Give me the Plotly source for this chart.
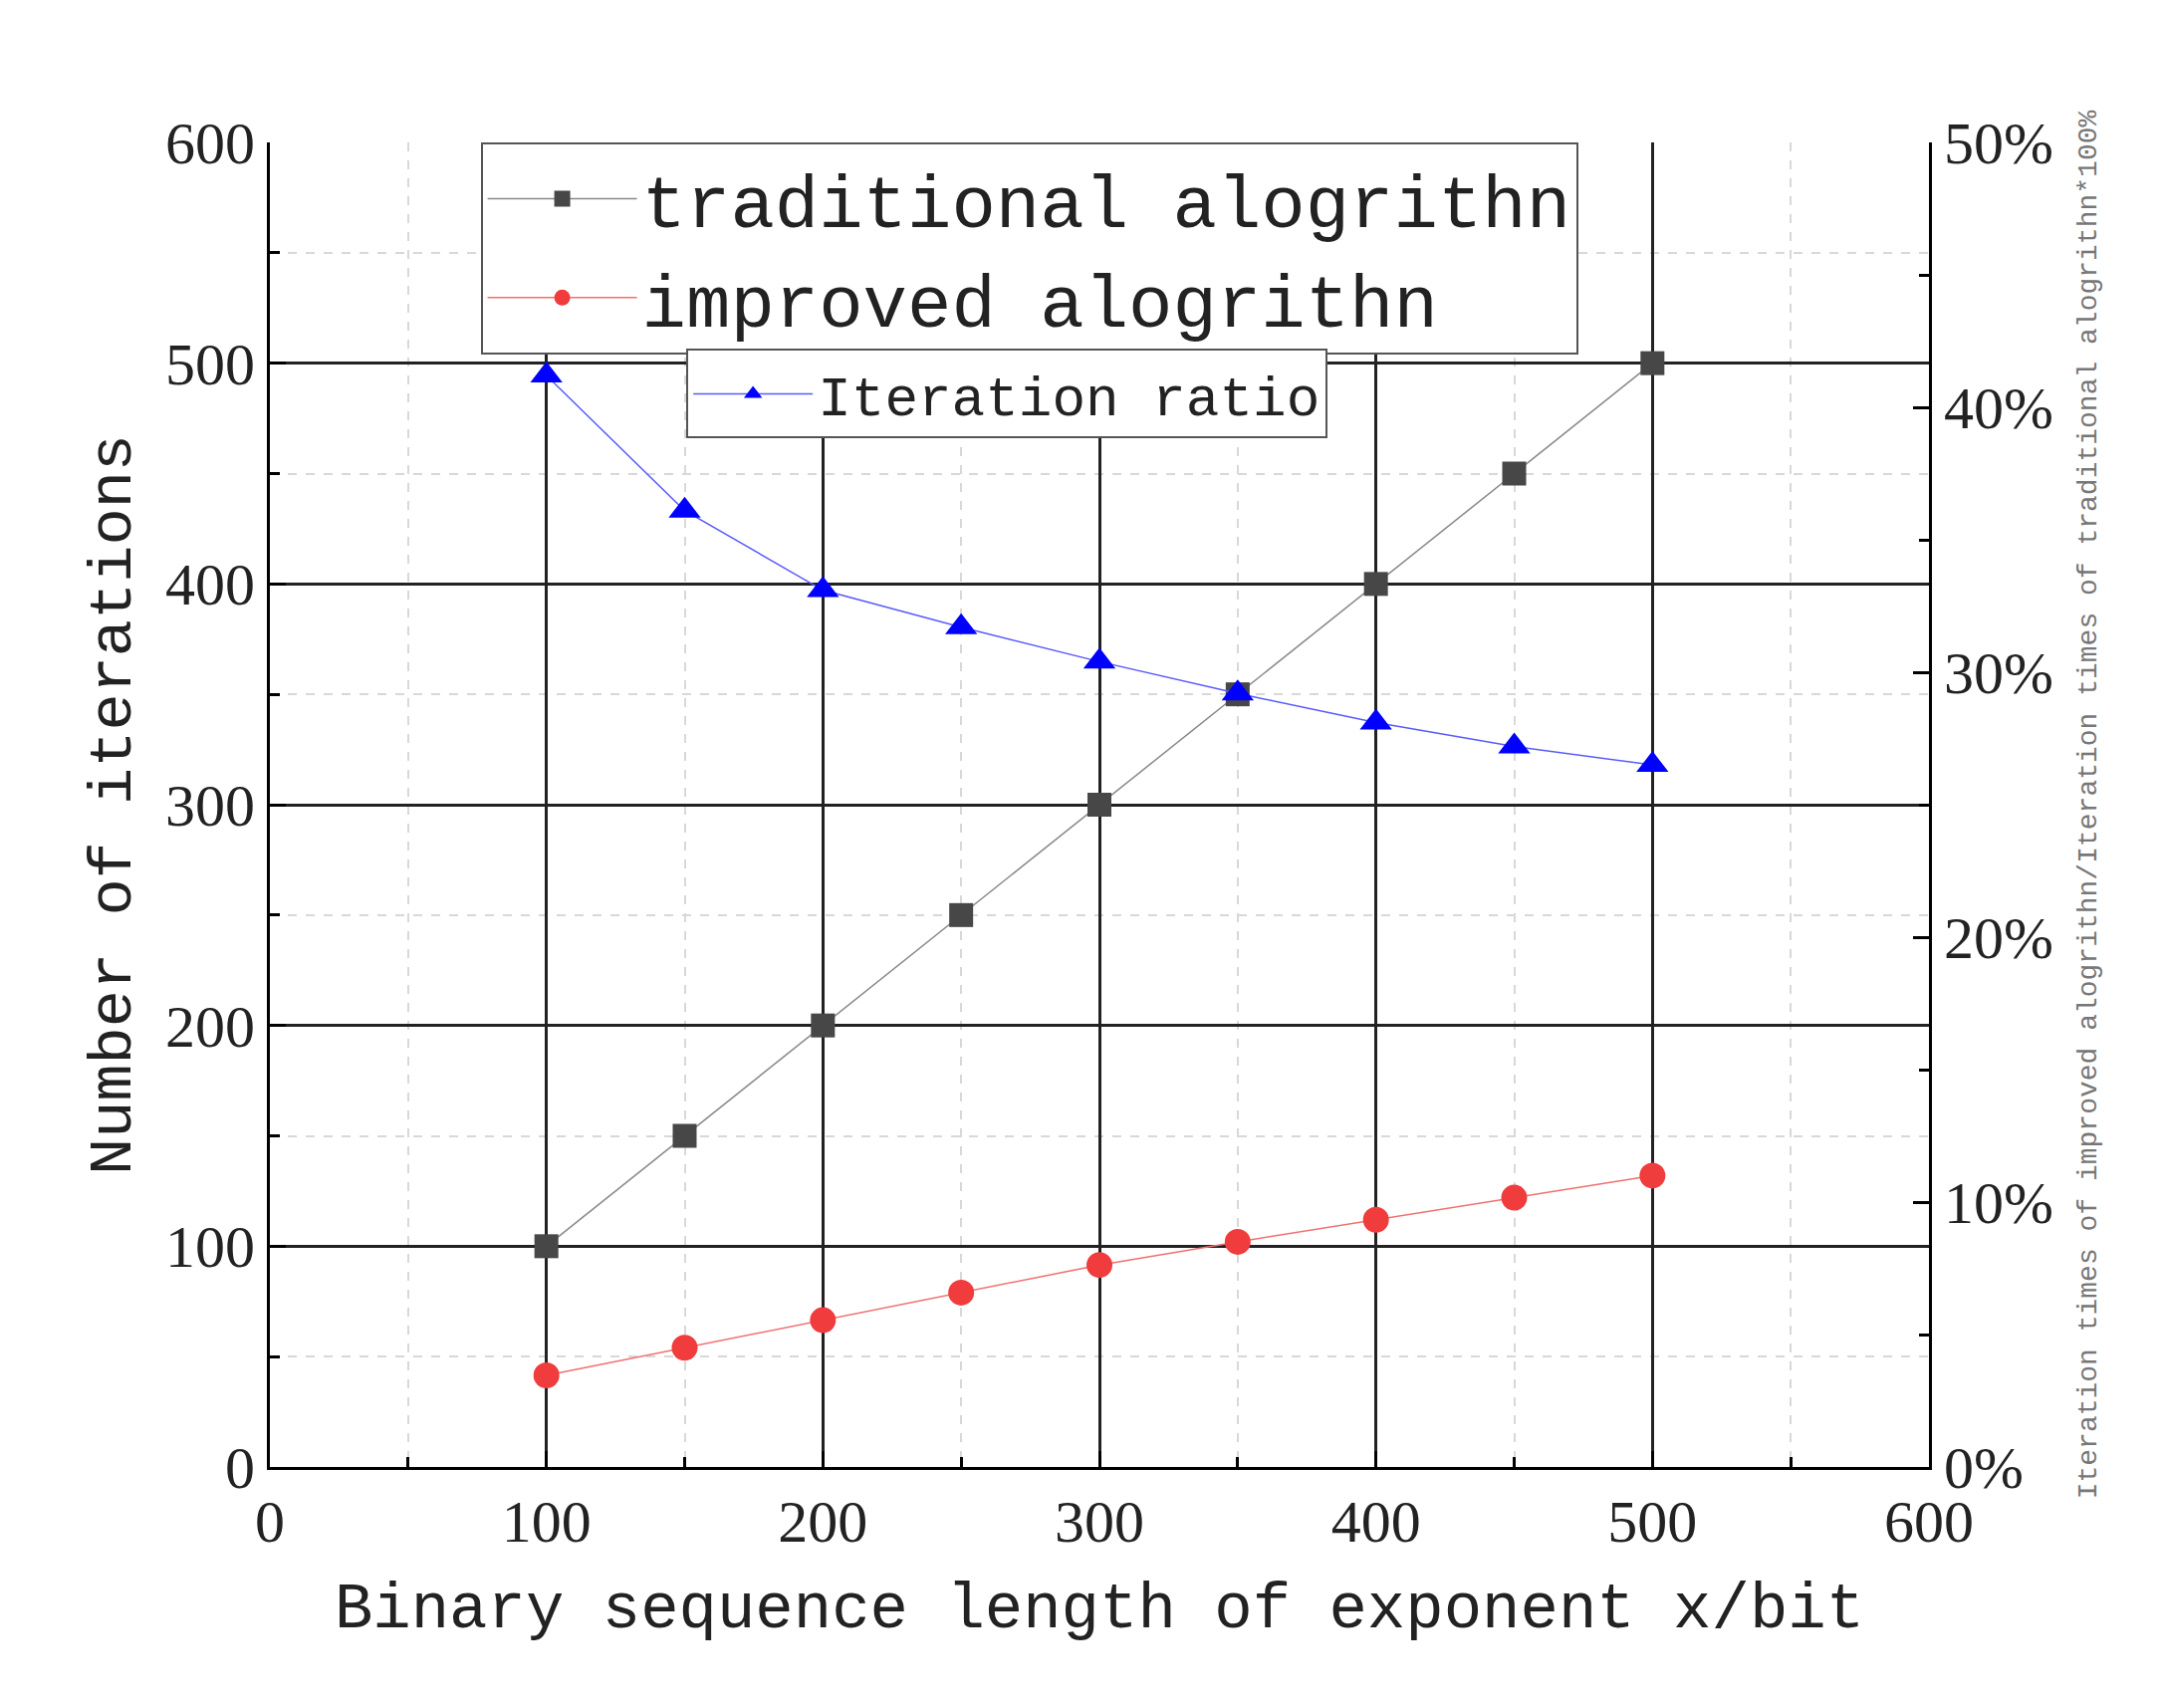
import plotly.graph_objects as go

x = [100, 150, 200, 250, 300, 350, 400, 450, 500]
traditional = [100, 150, 200, 250, 300, 350, 400, 450, 500]
improved = [41.5, 54, 66.5, 79, 91.5, 102, 112, 122, 132]
ratio = [41.2, 36.1, 33.1, 31.7, 30.4, 29.2, 28.1, 27.2, 26.5]

SERIF = "Liberation Serif"
MONO = "Liberation Mono"

fig = go.Figure()
fig.add_trace(go.Scatter(x=x, y=traditional, name="traditional alogrithn", mode="lines+markers",
                         line=dict(color="#888888", width=1.5),
                         marker=dict(symbol="square", size=24, color="#474747"), legend="legend"))
fig.add_trace(go.Scatter(x=x, y=improved, name="improved alogrithn", mode="lines+markers",
                         line=dict(color="#f07070", width=1.5),
                         marker=dict(symbol="circle", size=26, color="#f03c3c"), legend="legend"))
fig.add_trace(go.Scatter(x=x, y=ratio, name="Iteration ratio", mode="lines+markers", yaxis="y2",
                         line=dict(color="#5a5aff", width=1.5),
                         marker=dict(symbol="triangle-up", size=28, color="#0000ff"), legend="legend2"))

minor_grid = dict(dtick=50, showgrid=True, griddash="dash", gridcolor="#d8d8d8", gridwidth=1.5,
                  ticks="inside", ticklen=10, tickcolor="black", tickwidth=3)

fig.update_layout(
    width=2170, height=1715, plot_bgcolor="white", paper_bgcolor="white",
    margin=dict(l=263, r=241, t=135, b=250),
    xaxis=dict(range=[0, 600], dtick=100, showgrid=True, gridcolor="#222222", gridwidth=2.5,
               ticks="inside", ticklen=16, tickwidth=3, tickcolor="black",
               showline=True, linecolor="black", linewidth=3, zeroline=False,
               minor=minor_grid, tickfont=dict(family=SERIF, size=60, color="#222"),
               title=dict(text="Binary sequence length of exponent x/bit",
                          font=dict(family=MONO, size=64, color="#222"), standoff=30)),
    yaxis=dict(range=[0, 600], dtick=100, showgrid=True, gridcolor="#222222", gridwidth=2.5,
               ticks="inside", ticklen=16, tickwidth=3, tickcolor="black",
               showline=True, linecolor="black", linewidth=3, zeroline=False,
               minor=minor_grid, tickfont=dict(family=SERIF, size=60, color="#222"),
               title=dict(text="Number of iterations", font=dict(family=MONO, size=62, color="#222"),
                          standoff=15)),
    yaxis2=dict(range=[0, 50], dtick=10, ticksuffix="%", overlaying="y", side="right",
                showgrid=False, zeroline=False, ticks="inside", ticklen=16, tickwidth=3,
                tickcolor="black", showline=True, linecolor="black", linewidth=3,
                minor=dict(dtick=5, ticks="inside", ticklen=10, tickcolor="black", tickwidth=3),
                tickfont=dict(family=SERIF, size=60, color="#222"),
                title=dict(text="Iteration times of improved alogrithn/Iteration times of traditional alogrithn*100%",
                           font=dict(family=MONO, size=28, color="#777"), standoff=25)),
    legend=dict(x=0.127, y=1.0, xanchor="left", yanchor="top", bgcolor="white",
                bordercolor="#555", borderwidth=2, font=dict(family=MONO, size=74, color="#222"),
                itemwidth=150),
    legend2=dict(x=0.251, y=0.844, xanchor="left", yanchor="top", bgcolor="white",
                 bordercolor="#555", borderwidth=2, font=dict(family=MONO, size=56, color="#222"),
                 itemwidth=120),
)
fig.write_html("out.html")
